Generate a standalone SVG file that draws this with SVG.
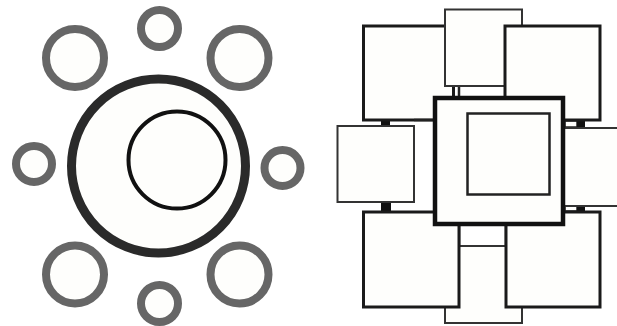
<svg xmlns="http://www.w3.org/2000/svg" width="617" height="326" viewBox="0 0 617 326">
<style>
.sm{fill:#fefefc;stroke:#666;stroke-width:8}
.big{fill:#fefefc;stroke:#2a2a2a;stroke-width:9}
.in{fill:#fefefc;stroke:#111;stroke-width:4}
.bx{fill:#fefefc;stroke:#1a1a1a;stroke-width:3}
.tb{fill:#fefefc;stroke:#333;stroke-width:2}
.sq{fill:#fefefc;stroke:#222;stroke-width:2.5}
.ctr{fill:#fefefc;stroke:#111;stroke-width:4.5}
.tab{fill:#111}
.ln{stroke:#222;stroke-width:2.5;fill:none}
</style>
<rect width="617" height="326" fill="#fff"/>
<g id="circle-center">
<circle class="big" cx="158.5" cy="166" r="87"/>
<circle class="in" cx="177" cy="160" r="48.5"/>
</g>
<g id="circle-top"><circle class="sm" cx="159.5" cy="28.5" r="18.5"/></g>
<g id="circle-tl"><circle class="sm" cx="75" cy="58" r="29"/></g>
<g id="circle-tr"><circle class="sm" cx="239.5" cy="58" r="29"/></g>
<g id="circle-left"><circle class="sm" cx="34" cy="164" r="18"/></g>
<g id="circle-right"><circle class="sm" cx="282.5" cy="168" r="18"/></g>
<g id="circle-bl"><circle class="sm" cx="75" cy="274.5" r="29"/></g>
<g id="circle-br"><circle class="sm" cx="239.5" cy="274.5" r="29"/></g>
<g id="circle-bottom"><circle class="sm" cx="159.5" cy="303.5" r="18.5"/></g>

<g id="connectors">
<line class="ln" x1="459" y1="86" x2="459" y2="97"/>
<line class="ln" x1="459" y1="224" x2="459" y2="246"/>
<line class="ln" x1="506" y1="224" x2="506" y2="246"/>
<rect class="tab" x="381" y="120" width="9" height="6"/>
<rect class="tab" x="381" y="202" width="10" height="10"/>
<rect x="565" y="121" width="12" height="6" fill="#fefefc" stroke="#222" stroke-width="1.5"/>
<rect class="tab" x="577" y="120" width="8" height="8"/>
<rect x="565" y="206" width="12" height="5" fill="#fefefc" stroke="#222" stroke-width="1.5"/>
<rect class="tab" x="577" y="205" width="8" height="7"/>
</g>

<g id="box-tl"><rect class="bx" x="363.5" y="26" width="90" height="94"/><line class="ln" x1="414" y1="120" x2="434" y2="120"/></g>
<g id="box-top"><rect class="tb" x="445" y="9.5" width="77" height="76.5"/></g>
<g id="box-tr"><rect class="bx" x="505" y="26" width="95" height="94"/></g>
<g id="box-left"><rect class="tb" x="337.5" y="126" width="76.5" height="76"/></g>
<g id="box-right"><rect class="tb" x="560" y="128" width="70" height="78"/></g>
<g id="box-bottom"><rect class="tb" x="445" y="246" width="77" height="77"/></g>
<g id="box-bl"><rect class="bx" x="363.5" y="212" width="95.5" height="95"/></g>
<g id="box-br"><rect class="bx" x="506" y="212" width="94" height="95"/></g>
<g id="box-center">
<rect class="ctr" x="435" y="98" width="128" height="126"/>
<rect class="sq" x="467.5" y="113.5" width="82" height="81"/>
</g>
</svg>
